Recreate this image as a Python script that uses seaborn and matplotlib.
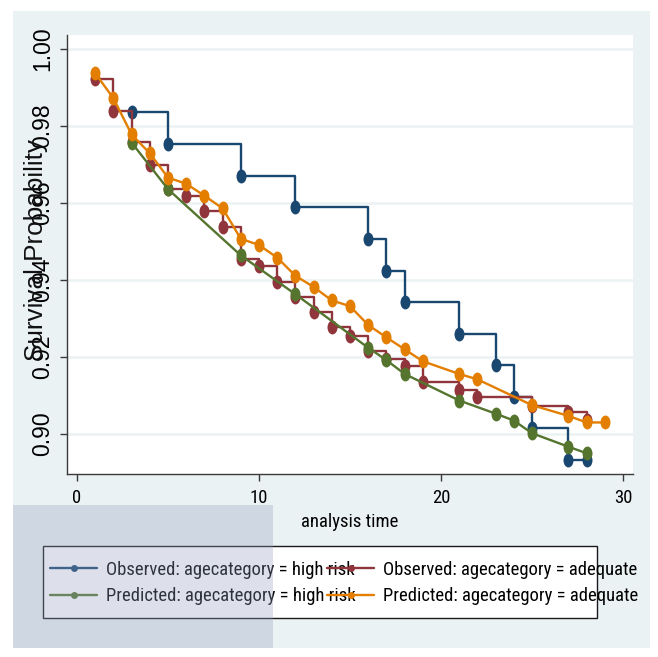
import matplotlib
matplotlib.use("Agg")
import numpy as np
import pandas as pd
import seaborn as sns
import matplotlib.pyplot as plt
from matplotlib import font_manager
from matplotlib.path import Path
from matplotlib.lines import Line2D
from matplotlib.patches import Rectangle

# Observed (Kaplan-Meier) and predicted (Cox) survival by age category
time_high = [3, 5, 9, 12, 16, 17, 18, 21, 23, 24, 25, 27, 28]
obs_high = [0.9836, 0.9753, 0.9671, 0.9590, 0.9506, 0.9424, 0.9343,
            0.9260, 0.9178, 0.9097, 0.9015, 0.8932, 0.8932]
pred_high = [0.9757, 0.9636, 0.9464, 0.9363, 0.9224, 0.9192, 0.9156,
             0.9087, 0.9053, 0.9035, 0.9002, 0.8967, 0.8950]

time_adequate_obs = [1, 2, 3, 4, 5, 6, 7, 8, 9, 10, 11, 12, 13, 14, 15,
                     16, 17, 18, 19, 21, 22, 25, 27, 28]
obs_adequate = [0.9921, 0.9839, 0.9758, 0.9699, 0.9636, 0.9618, 0.9578,
                0.9537, 0.9455, 0.9436, 0.9395, 0.9357, 0.9316, 0.9277,
                0.9255, 0.9216, 0.9195, 0.9177, 0.9135, 0.9114, 0.9095,
                0.9074, 0.9058, 0.9036]

time_adequate_pred = [1, 2, 3, 4, 5, 6, 7, 8, 9, 10, 11, 12, 13, 14, 15,
                      16, 17, 18, 19, 21, 22, 25, 27, 28, 29]
pred_adequate = [0.9937, 0.9872, 0.9778, 0.9729, 0.9666, 0.9650, 0.9619,
                 0.9586, 0.9507, 0.9491, 0.9458, 0.9411, 0.9382, 0.9347,
                 0.9332, 0.9283, 0.9251, 0.9220, 0.9189, 0.9156, 0.9142,
                 0.9075, 0.9047, 0.9030, 0.9030]

series_labels = [
    "Observed: agecategory = high risk",
    "Observed: agecategory = adequate",
    "Predicted: agecategory = high risk",
    "Predicted: agecategory = adequate",
]
series_colors = ["#1a476f", "#90353b", "#55752f", "#e37e00"]

x_ticks = [0, 10, 20, 30]
x_tick_labels = ["0", "10", "20", "30"]
y_ticks = [0.90, 0.92, 0.94, 0.96, 0.98, 1.00]
y_tick_labels = ["0.90", "0.92", "0.94", "0.96", "0.98", "1.00"]


def pick_font(candidates):
    for fam in candidates:
        try:
            font_manager.findfont(font_manager.FontProperties(family=fam),
                                  fallback_to_default=False)
            return fam
        except Exception:
            continue
    return "DejaVu Sans"


narrow = pick_font(["Liberation Sans Narrow", "Roboto Condensed"])
regular = pick_font(["Liberation Sans", "Arial", "DejaVu Sans"])
if narrow == "DejaVu Sans":
    narrow, narrow_size = regular, 11.0
else:
    narrow_size = 13.4

sns.set_style("white")
plt.rcParams["font.family"] = [regular, "DejaVu Sans"]

W, H = 658, 657
fig = plt.figure(figsize=(W / 100, H / 100), dpi=100, facecolor="white")

# graph region background
fig.add_artist(Rectangle((13 / W, 1 - 648 / H), 637 / W, 637 / H,
                         transform=fig.transFigure, facecolor="#eaf2f3",
                         edgecolor="none", zorder=-1))

ax = fig.add_axes([67 / W, 1 - 474 / H, 566 / W, 439 / H])
ax.set_facecolor("white")

# vertically elongated marker
circ = Path.unit_circle()
ellipse = Path(circ.vertices * np.array([0.72, 1.0]), circ.codes)

frames = [
    (pd.DataFrame({"time": time_high, "surv": obs_high}), "steps-post"),
    (pd.DataFrame({"time": time_adequate_obs, "surv": obs_adequate}), "steps-post"),
    (pd.DataFrame({"time": time_high, "surv": pred_high}), "default"),
    (pd.DataFrame({"time": time_adequate_pred, "surv": pred_adequate}), "default"),
]
for (df, style), color in zip(frames, series_colors):
    sns.lineplot(data=df, x="time", y="surv", ax=ax, color=color,
                 drawstyle=style, marker=ellipse, markersize=10,
                 markeredgewidth=0, linewidth=1.7, errorbar=None,
                 legend=False, zorder=3)

ax.set_xlim(-0.55, 30.55)
ax.set_ylim(0.88961, 1.00364)
ax.set_xticks(x_ticks)
ax.set_xticklabels(x_tick_labels, fontfamily=narrow, fontsize=narrow_size)
ax.set_yticks(y_ticks)
ax.set_yticklabels(y_tick_labels, rotation=90, va="center",
                   fontfamily=regular, fontsize=16.5)

ax.yaxis.grid(True, color="#eaf2f3", linewidth=1.8, zorder=0)
ax.xaxis.grid(False)
ax.set_axisbelow(True)

for side in ["top", "right"]:
    ax.spines[side].set_visible(False)
for side in ["left", "bottom"]:
    ax.spines[side].set_color("#3a3a3a")
    ax.spines[side].set_linewidth(1.0)

ax.tick_params(axis="both", direction="out", length=5, width=1.0,
               color="#3a3a3a", labelcolor="#000000", left=True, bottom=True)
ax.tick_params(axis="x", pad=5.5)
ax.tick_params(axis="y", pad=4)

ax.set_xlabel("analysis time", fontfamily=narrow, fontsize=narrow_size,
              color="#000000", labelpad=4.5)
ax.set_ylabel("Survival Probability", fontfamily=regular, fontsize=18.8,
              color="#111111")
ax.yaxis.set_label_coords(-0.034, 0.51)

# legend frame and two legend columns
fig.add_artist(Rectangle((43 / W, 1 - 618 / H), 554 / W, 72 / H,
                         transform=fig.transFigure, facecolor="white",
                         edgecolor="#1a1a1a", linewidth=1.0, zorder=2))

handles = [Line2D([], [], color=c, linewidth=1.7, marker="o", markersize=5,
                  markeredgewidth=0) for c in series_colors]
legend_font = font_manager.FontProperties(family=narrow, size=narrow_size)
common = dict(loc="center left", frameon=False, borderpad=0, borderaxespad=0,
              handlelength=2.55, handletextpad=0.45, labelspacing=0.47,
              prop=legend_font, bbox_transform=fig.transFigure, numpoints=1,
              labelcolor="#000000")
fig.legend([handles[0], handles[2]], [series_labels[0], series_labels[2]],
           bbox_to_anchor=(50 / W, 1 - 583 / H), **common)
fig.legend([handles[1], handles[3]], [series_labels[1], series_labels[3]],
           bbox_to_anchor=(327 / W, 1 - 583 / H), **common)

# faint overlay band in the lower-left corner
fig.add_artist(Rectangle((13 / W, 1 - 648 / H), 260 / W, 143 / H,
                         transform=fig.transFigure, facecolor=(0.59, 0.63, 0.76),
                         alpha=0.32, edgecolor="none", zorder=10))

fig.savefig("out.png", dpi=100, facecolor="white")
